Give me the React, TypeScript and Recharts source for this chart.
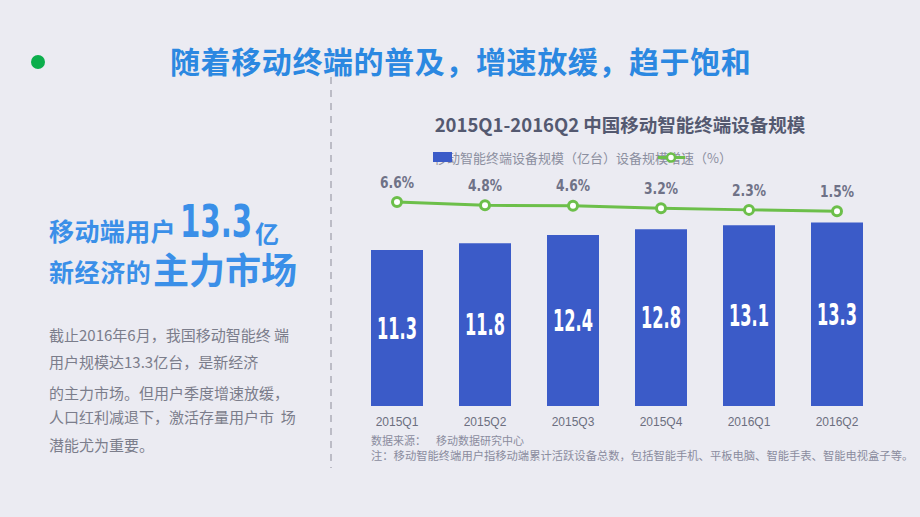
import React from "react";
import { Bar, ComposedChart, LabelList, Legend, Line, XAxis, YAxis } from "recharts";

const quarters = ["2015Q1", "2015Q2", "2015Q3", "2015Q4", "2016Q1", "2016Q2"];
const deviceScale = [11.3, 11.8, 12.4, 12.8, 13.1, 13.3];
const growthRate = [6.6, 4.8, 4.6, 3.2, 2.3, 1.5];

const headline = "随着移动终端的普及，增速放缓，趋于饱和";
const chartTitle = "2015Q1-2016Q2 中国移动智能终端设备规模";
const legendText = "移动智能终端设备规模（亿台）设备规模增速（%）";
const bodyLines = [
  "截止2016年6月，我国移动智能终 端",
  "用户规模达13.3亿台，是新经济",
  "的主力市场。但用户季度增速放缓，",
  "人口红利减退下，激活存量用户市  场",
  "潜能尤为重要。",
];
const bodyLineCenters = [335, 362.6, 393, 417.5, 445];
const sourceNote = "数据来源：";
const sourceName = "移动数据研究中心";
const footNote = "注：移动智能终端用户指移动端累计活跃设备总数，包括智能手机、平板电脑、智能手表、智能电视盒子等。";

const chartData = quarters.map((q, i) => ({ q, scale: deviceScale[i], rate: growthRate[i] }));

const BG = "#ebebf2";
const BAR_BLUE = "#3b5bc8";
const LINE_GREEN = "#6cbf4a";
const HEAD_BLUE = "#2b88e1";
const CJK = '"Noto Sans CJK SC", "Noto Sans", sans-serif';
// no Impact here, so squeeze a condensed bold face horizontally
const NARROW = '"DejaVu Sans Condensed", "Liberation Sans Narrow", sans-serif';

function txt(left: number, centerY: number, size: number, extra: React.CSSProperties = {}) {
  return {
    position: "absolute" as const,
    left,
    top: centerY - size * 0.55,
    fontSize: size,
    lineHeight: `${size}px`,
    whiteSpace: "pre" as const,
    fontFamily: CJK,
    ...extra,
  };
}

function ChartLegend() {
  return (
    <div style={{ position: "relative", width: 320, height: 16, fontFamily: CJK, fontSize: 13, lineHeight: "16px", color: "#8c8fa0" }}>
      <span style={{ position: "absolute", left: 1, top: 0, whiteSpace: "nowrap" }}>{legendText}</span>
      <svg width={320} height={16} style={{ position: "absolute", left: 0, top: 0 }}>
        <rect x={0} y={2} width={19} height={10} fill={BAR_BLUE} />
        <line x1={225} x2={252} y1={7.5} y2={7.5} stroke={LINE_GREEN} strokeWidth={3} />
        <circle cx={238} cy={7.5} r={4} fill="#fff" stroke={LINE_GREEN} strokeWidth={2.5} />
      </svg>
    </div>
  );
}

function BarValueLabel(props: any) {
  const { x, y, width, height, value } = props;
  return (
    <text
      transform={`translate(${x + width / 2},${y + height / 2 + 10.8}) scale(0.6,1)`}
      textAnchor="middle"
      fill="#fff"
      fontFamily={NARROW}
      fontWeight="bold"
      fontSize={30}
    >
      {value}
    </text>
  );
}

function RateLabel(props: any) {
  const { x, y, value } = props;
  return (
    <text
      transform={`translate(${x},${y - 20 + 5.7}) scale(0.88,1)`}
      textAnchor="middle"
      fill="#6f7287"
      fontFamily={NARROW}
      fontWeight="bold"
      fontSize={15.5}
    >
      {value}%
    </text>
  );
}

export default function App() {
  return (
    <div style={{ position: "absolute", left: 0, top: 0, width: 920, height: 517, background: BG, overflow: "hidden" }}>
      <svg width={920} height={517} style={{ position: "absolute", left: 0, top: 0 }}>
        <circle cx={38} cy={62} r={7} fill="#0cae4c" />
        <line x1={331} x2={331} y1={77} y2={468} stroke="#bcbcc6" strokeWidth={2} strokeDasharray="7 6" />
        <text transform="translate(180,237) scale(0.74,1)" fill="#3a8fe8" fontFamily={NARROW} fontWeight="bold" fontSize={44}>
          13.3
        </text>
      </svg>

      <div style={txt(170, 61, 30, { color: HEAD_BLUE, fontWeight: 700, letterSpacing: 0.6 })}>{headline}</div>

      <div style={txt(49, 231.5, 25, { color: "#3a8fe8", fontWeight: 700, letterSpacing: 0.4 })}>移动端用户</div>
      <div style={txt(255, 234, 24, { color: "#3a8fe8", fontWeight: 700 })}>亿</div>
      <div style={txt(49, 273, 25, { color: "#3a8fe8", fontWeight: 700, letterSpacing: 0.6 })}>新经济的</div>
      <div style={txt(153, 270, 36, { color: "#3a8fe8", fontWeight: 700 })}>主力市场</div>

      {bodyLines.map((line, i) => (
        <div key={i} style={txt(49, bodyLineCenters[i], 15, { color: "#7b7d8b" })}>
          {line}
        </div>
      ))}

      <div style={{ ...txt(420, 125, 18.5, { color: "#545970", fontWeight: 700 }), width: 400, textAlign: "center" }}>{chartTitle}</div>

      <div style={{ position: "absolute", left: 0, top: 0 }}>
        <ComposedChart width={920} height={517} data={chartData} margin={{ top: 130, right: 39, bottom: 81, left: 353 }}>
          <XAxis
            dataKey="q"
            axisLine={false}
            tickLine={false}
            tickMargin={5}
            tick={{ fill: "#6c6f80", fontSize: 12, fontFamily: '"Liberation Sans", Arial, sans-serif' }}
          />
          <YAxis yAxisId="scale" hide domain={[0, 20]} />
          <YAxis yAxisId="rate" hide orientation="right" domain={[-105, 46]} />
          <Legend verticalAlign="middle" content={() => <ChartLegend />} wrapperStyle={{ left: 433, top: 150, width: 320, height: 16 }} />
          <Bar yAxisId="scale" dataKey="scale" fill={BAR_BLUE} barSize={52} isAnimationActive={false}>
            <LabelList dataKey="scale" content={BarValueLabel} />
          </Bar>
          <Line
            yAxisId="rate"
            dataKey="rate"
            stroke={LINE_GREEN}
            strokeWidth={3}
            dot={{ r: 4.5, fill: "#fff", stroke: LINE_GREEN, strokeWidth: 3 }}
            activeDot={false}
            isAnimationActive={false}
          >
            <LabelList dataKey="rate" content={RateLabel} />
          </Line>
        </ComposedChart>
      </div>

      <div style={txt(371, 440.7, 11, { color: "#8a8c9e" })}>{sourceNote}</div>
      <div style={txt(436, 440.7, 11, { color: "#8a8c9e" })}>{sourceName}</div>
      <div style={txt(371, 456.7, 11.3, { color: "#8a8c9e" })}>{footNote}</div>
    </div>
  );
}
